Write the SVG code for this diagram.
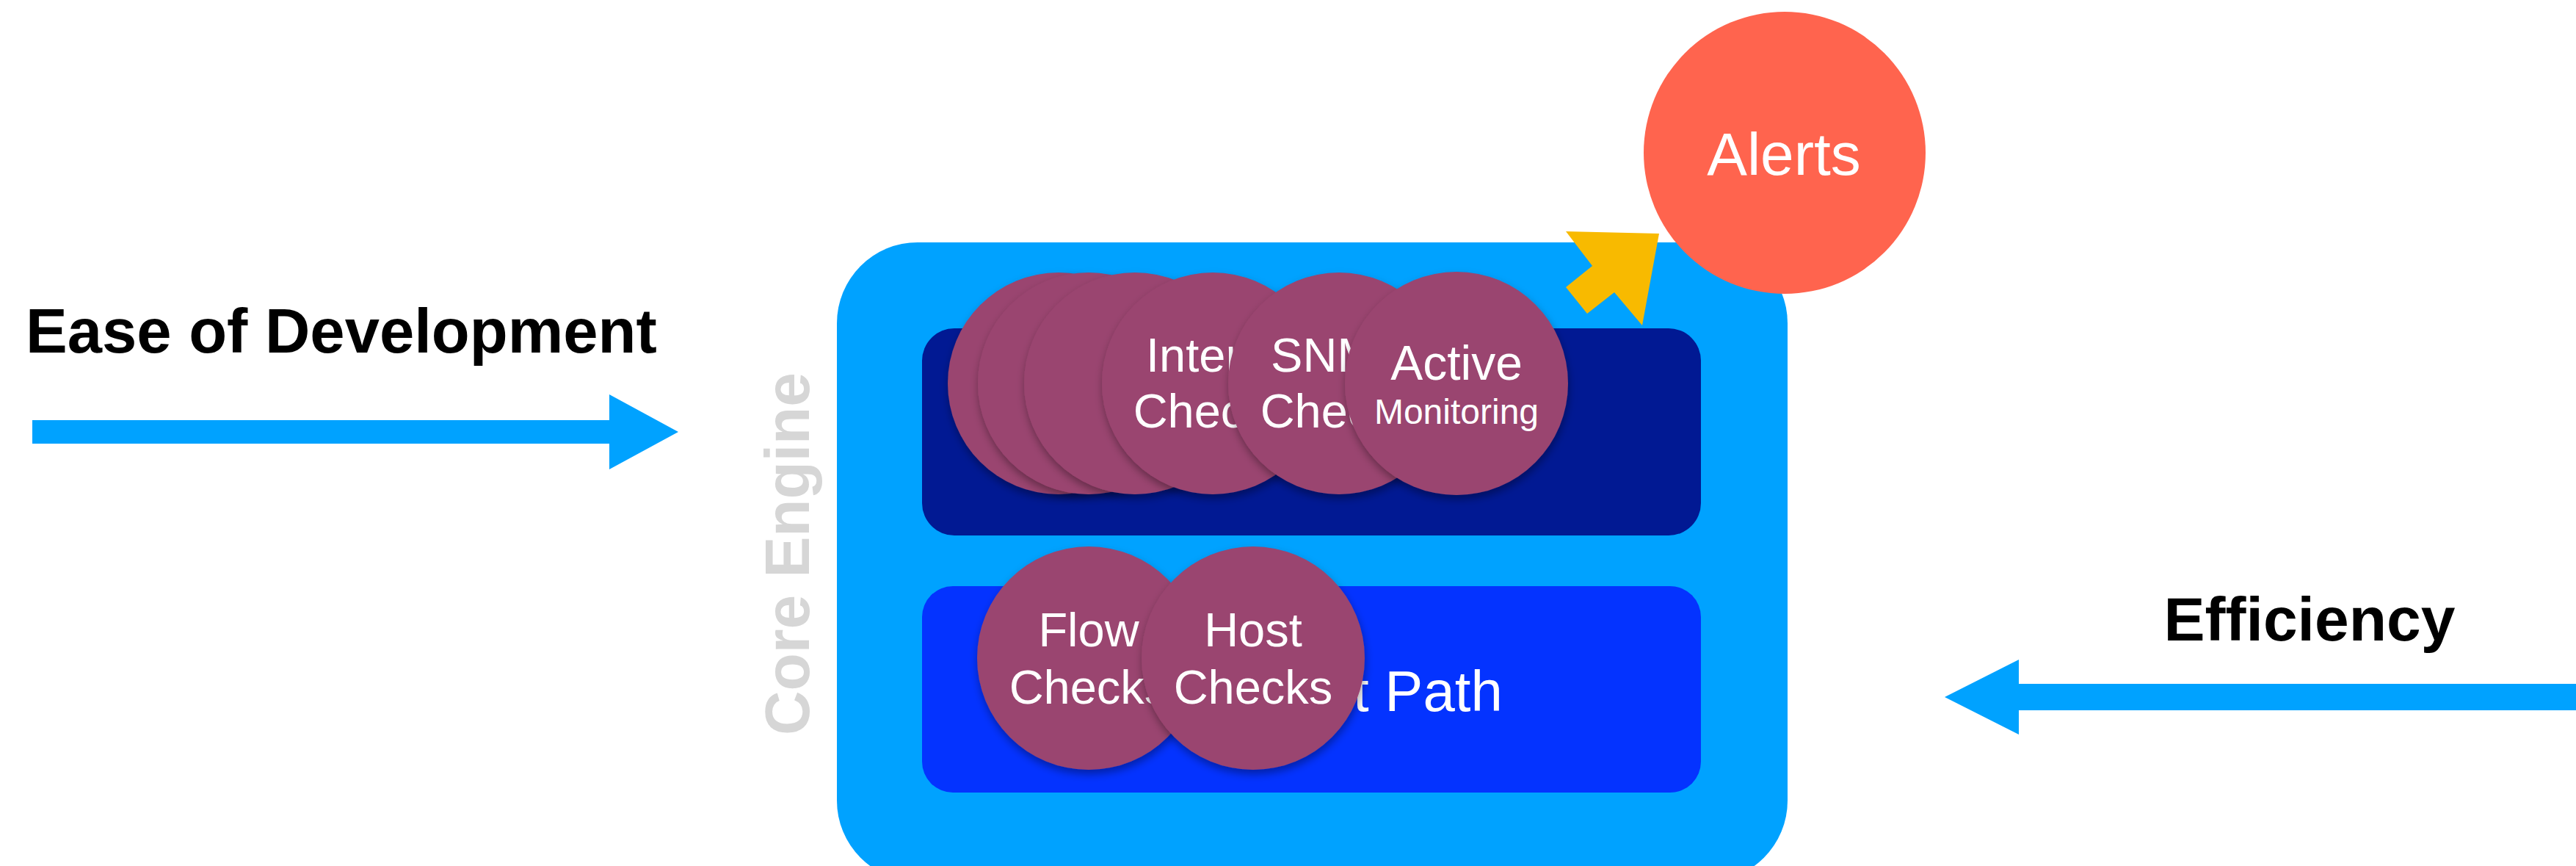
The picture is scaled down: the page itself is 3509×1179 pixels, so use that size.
<svg xmlns="http://www.w3.org/2000/svg" width="3509" height="1179" viewBox="0 0 3509 1179">
<style>
.lbl{font-family:"Liberation Sans",Arial,sans-serif;fill:#FFFFFF;}
.big{font-family:"Liberation Sans",Arial,sans-serif;font-weight:bold;fill:#000000;}
.chk{fill:#9A4570;filter:url(#sh);}
.arrow{fill:#00A2FF;}
</style>
<defs>
<filter id="sh" x="-20%" y="-20%" width="140%" height="140%">
<feDropShadow dx="1" dy="6" stdDeviation="6" flood-color="#000000" flood-opacity="0.35"/>
</filter>
</defs>
<rect width="3509" height="1179" fill="#FFFFFF"/>

<g id="ease-of-development">
<text class="big" x="35" y="480" font-size="85">Ease of Development</text>
</g>
<g id="efficiency">
<text class="big" x="3146" y="872" font-size="84" text-anchor="middle">Efficiency</text>
</g>

<g id="connectors">
<polygon class="arrow" points="44,572 830,572 830,537 924,588 830,639 830,604 44,604"/>
<polygon class="arrow" points="3509,931 2750,931 2750,898 2649,949 2750,1000 2750,967 3509,967"/>
</g>

<g id="core-engine">
<rect x="1140" y="330" width="1295" height="870" rx="110" ry="110" fill="#00A2FF"/>
<text x="0" y="0" transform="translate(1102,754) rotate(-90)" font-family="Liberation Sans, Arial, sans-serif" font-weight="bold" font-size="86" fill="#D6D6D6" text-anchor="middle" textLength="494" lengthAdjust="spacingAndGlyphs">Core Engine</text>
</g>

<g id="top-layer">
<rect x="1256" y="447" width="1061" height="282" rx="44" ry="44" fill="#011993"/>
</g>

<g id="fast-path">
<rect x="1256" y="798" width="1061" height="281" rx="42" ry="42" fill="#0433FF"/>
<text class="lbl" x="1713" y="968" font-size="78">Fast Path</text>
</g>

<g id="check-1"><circle class="chk" cx="1442" cy="522" r="151"/></g>
<g id="check-2"><circle class="chk" cx="1483" cy="522" r="151"/></g>
<g id="check-3"><circle class="chk" cx="1546" cy="522" r="151"/></g>
<g id="interface-checks">
<circle class="chk" cx="1652" cy="522" r="151"/>
<text class="lbl" x="1561" y="506" font-size="65">Interface</text>
<text class="lbl" x="1652" y="582" font-size="65" text-anchor="middle">Checks</text>
</g>
<g id="snmp-checks">
<circle class="chk" cx="1824" cy="522" r="151"/>
<text class="lbl" x="1825" y="506" font-size="65" text-anchor="middle">SNMP</text>
<text class="lbl" x="1825" y="582" font-size="65" text-anchor="middle">Checks</text>
</g>
<g id="active-monitoring">
<circle class="chk" cx="1984" cy="522" r="152"/>
<text class="lbl" x="1984" y="517" font-size="66" text-anchor="middle">Active</text>
<text class="lbl" x="1984" y="577" font-size="48" text-anchor="middle">Monitoring</text>
</g>

<g id="flow-checks">
<circle class="chk" cx="1483" cy="896" r="152"/>
<text class="lbl" x="1483" y="880" font-size="65" text-anchor="middle">Flow</text>
<text class="lbl" x="1483" y="958" font-size="65" text-anchor="middle">Checks</text>
</g>
<g id="host-checks">
<circle class="chk" cx="1707" cy="896" r="152"/>
<text class="lbl" x="1707" y="880" font-size="65" text-anchor="middle">Host</text>
<text class="lbl" x="1707" y="958" font-size="65" text-anchor="middle">Checks</text>
</g>

<g id="alert-arrow">
<polygon points="2133,315 2260,318 2237,443 2199,398 2162,427 2133,391 2169,362" fill="#F8BA00"/>
</g>

<g id="alerts">
<circle cx="2431" cy="208" r="192" fill="#FF644E"/>
<text class="lbl" x="2430" y="238" font-size="82" text-anchor="middle">Alerts</text>
</g>
</svg>
